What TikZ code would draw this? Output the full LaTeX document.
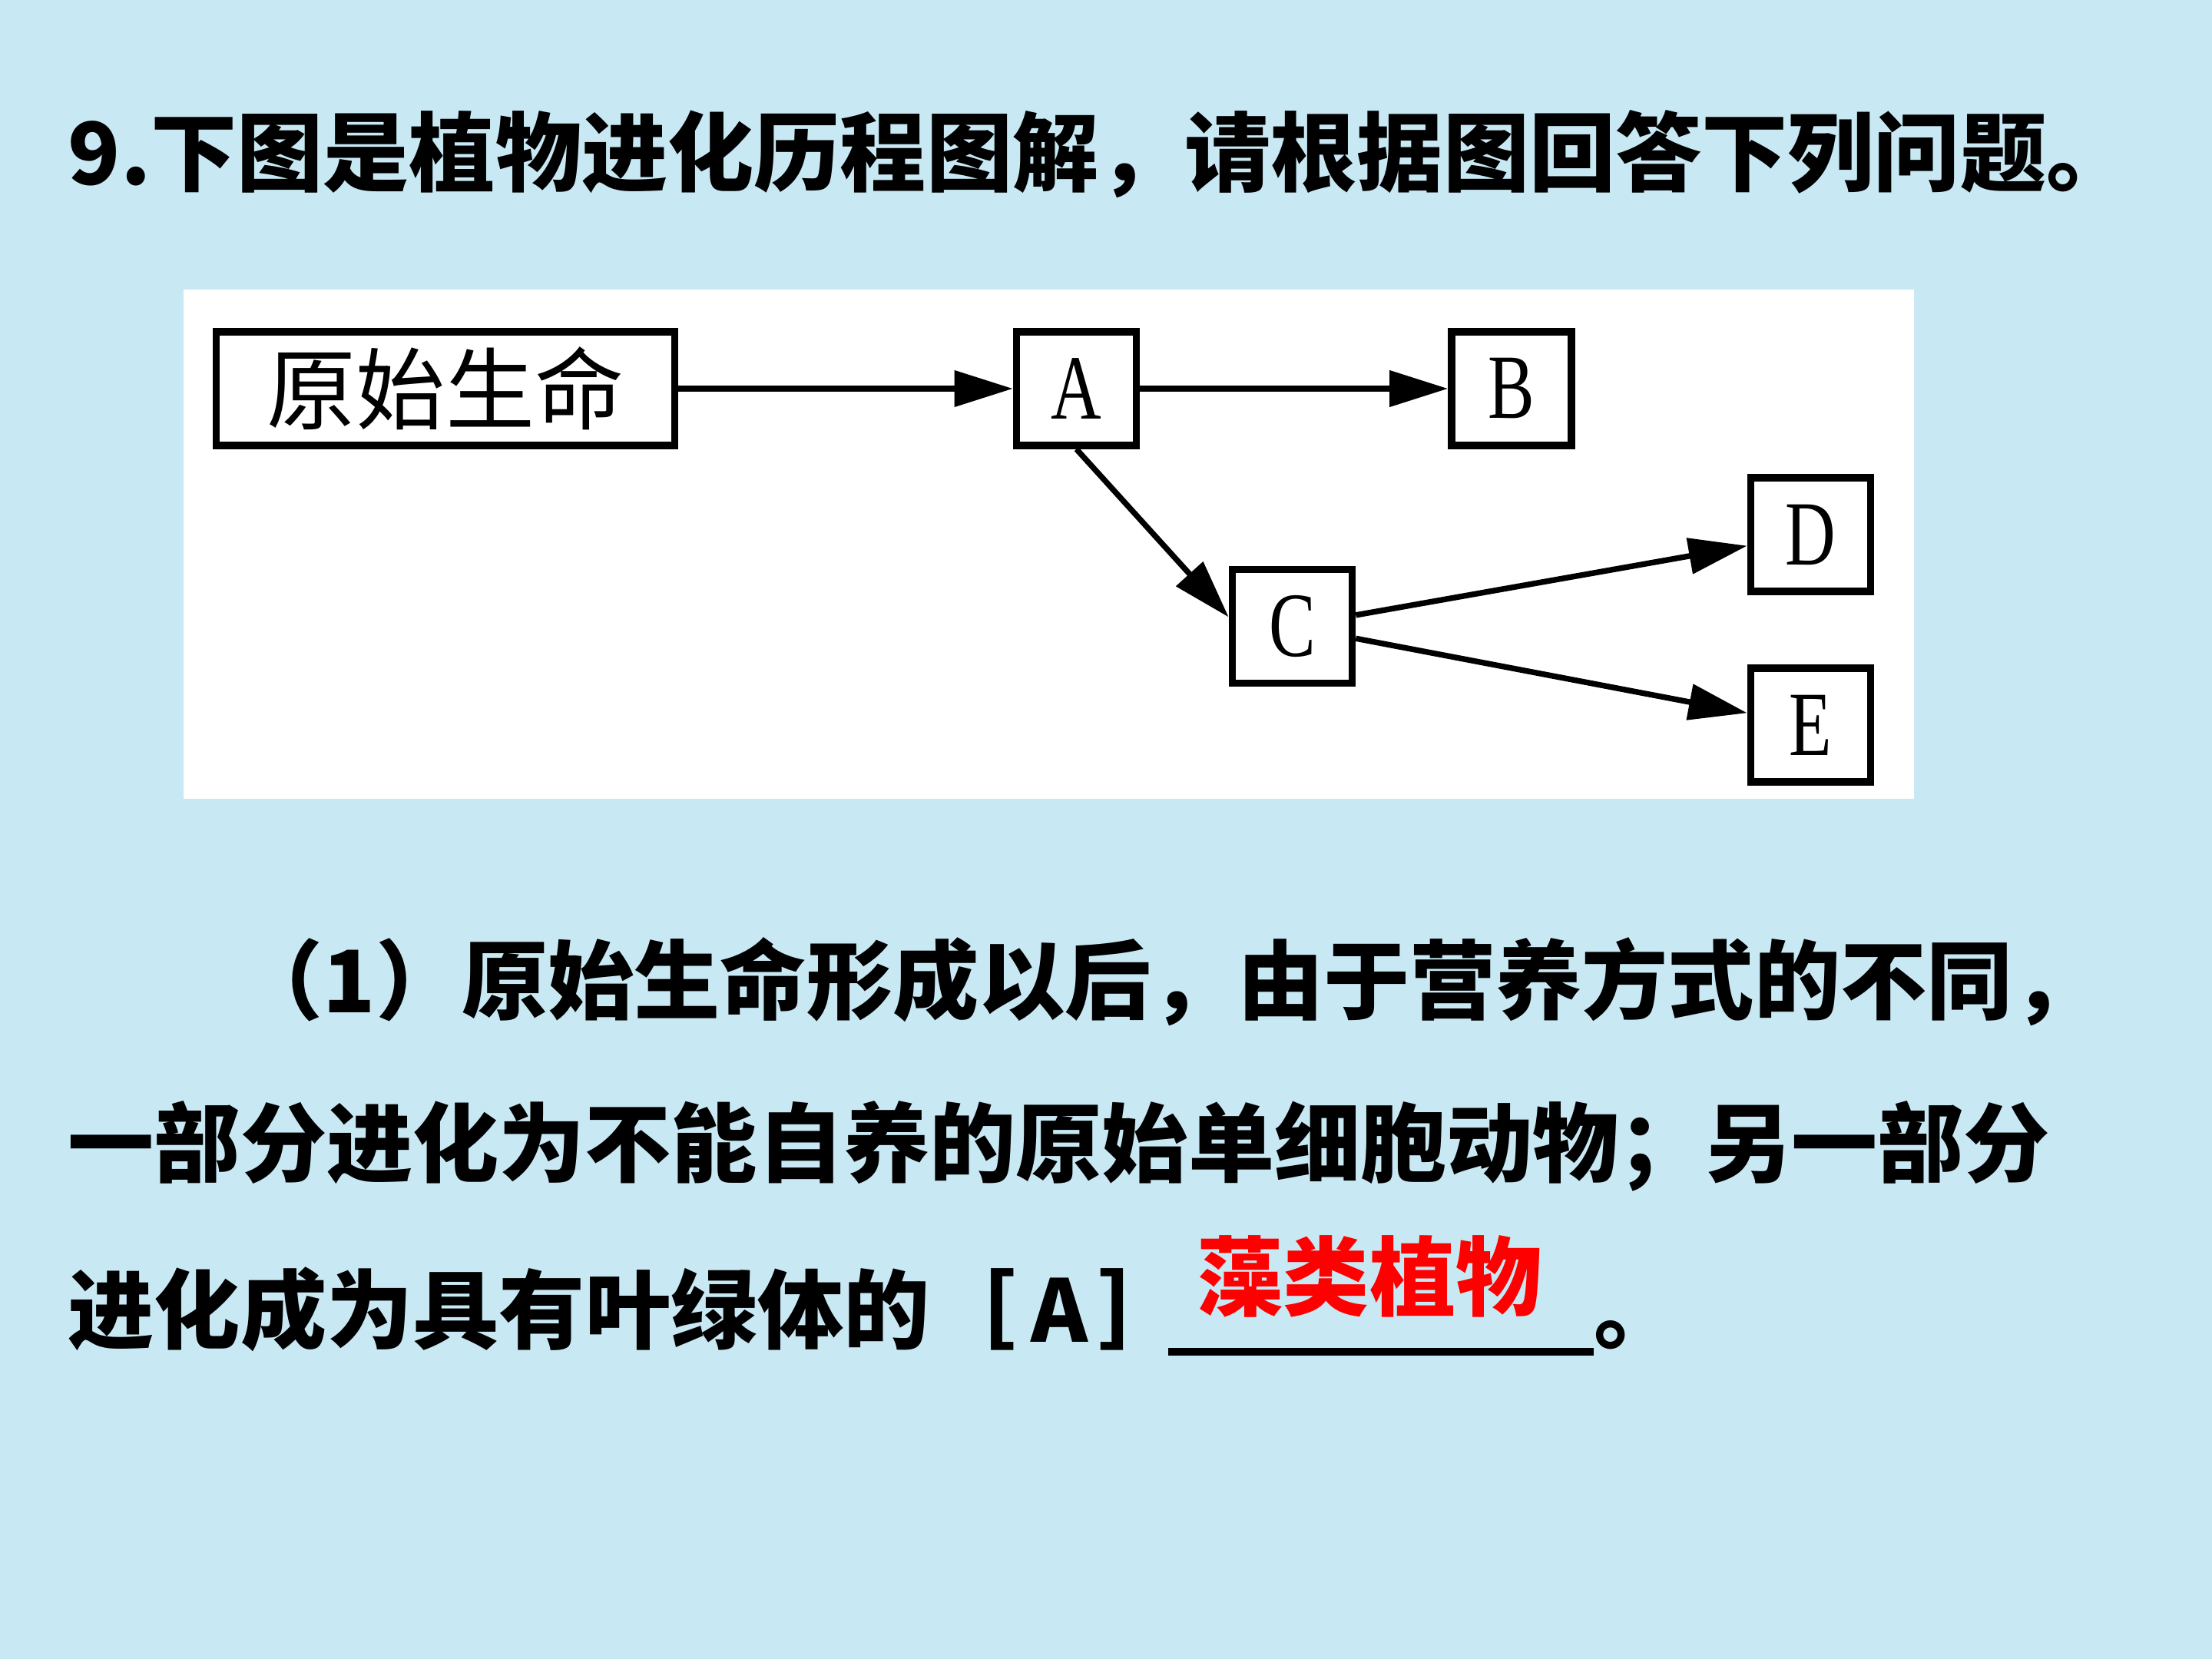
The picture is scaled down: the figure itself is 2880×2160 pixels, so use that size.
\documentclass[tikz,border=0pt]{standalone}
\usepackage{fontspec}
\usetikzlibrary{arrows.meta}
\newfontfamily\cjk{Noto Sans CJK SC}
\newfontfamily\dserif{Liberation Serif}
\definecolor{bg}{RGB}{200,232,243}
\definecolor{ansred}{RGB}{255,0,0}
\newcommand{\dlet}[1]{{\dserif\fontsize{34pt}{34pt}\selectfont\scalebox{0.76}[1]{#1}}}
\begin{document}
\begin{tikzpicture}[x=0.01cm,y=-0.01cm,
  txt/.style={anchor=base west, inner sep=0pt, font=\cjk\bfseries\fontsize{31.9pt}{31.9pt}\selectfont},
  box/.style={draw=black, line width=2.7pt, fill=white, inner sep=0pt, minimum height=1.48cm},
  lbox/.style={box, minimum width=1.56cm},
  arr/.style={line width=2.1pt, -{Triangle[length=0.76cm,width=0.46cm]}}]
\fill[bg] (0,0) rectangle (2880,2160);
\useasboundingbox (0,0) rectangle (2880,2160);
% diagram panel
\fill[white] (239,377) rectangle (2492,1040);
\node[box, minimum width=5.97cm] (orig) at (580,506) {\cjk\fontsize{33pt}{33pt}\selectfont 原始生命};
\node[lbox] (A) at (1401.5,506) {\dlet{A}};
\node[lbox] (B) at (1968,506) {\dlet{B}};
\node[lbox] (C) at (1682.5,815.5) {\dlet{C}};
\node[lbox] (D) at (2357.5,696) {\dlet{D}};
\node[lbox] (E) at (2357.5,944) {\dlet{E}};
\draw[arr] (orig) -- (A);
\draw[arr] (A) -- (B);
\draw[arr] (A.south) -- ([yshift=0.12cm]C.west);
\draw[arr] (C) -- (D);
\draw[arr] (C) -- (E);
% texts
\node[txt] (title) at (88,240) {9.下图是植物进化历程图解，请根据图回答下列问题。};
\node[txt] (l1) at (308,1318) {（1）原始生命形成以后，由于营养方式的不同，};
\node[txt] (l2) at (88,1530) {一部分进化为不能自养的原始单细胞动物；另一部分};
\node[txt] (l3) at (88,1747) {进化成为具有叶绿体的［\hspace{0.18em}A\hspace{0.12em}］};
\node[txt, text=ansred, anchor=base] (ans) at (1783,1704) {藻类植物};
\draw[line width=2.85pt] (1521,1760) -- (2075,1760);
\node[txt] (dot) at (2075,1747) {。};
\end{tikzpicture}
\end{document}
